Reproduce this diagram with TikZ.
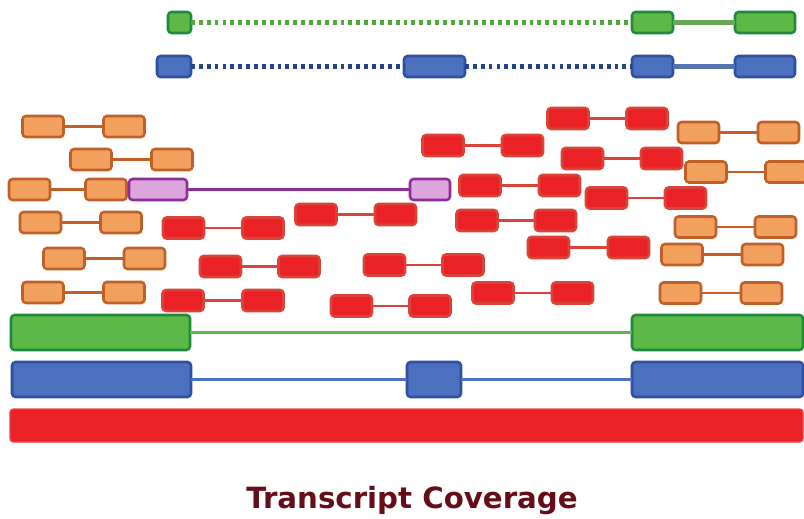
\documentclass[tikz,border=0pt]{standalone}
\usepackage{fontspec}
\newfontfamily\titlefont{DejaVu Sans}
\usepackage{tikz}
\usetikzlibrary{positioning}

\definecolor{exgreen}{HTML}{5CB946}
\definecolor{exgreenline}{HTML}{1F8A3B}
\definecolor{exblue}{HTML}{4A70BE}
\definecolor{exblueline}{HTML}{2E50A0}
\definecolor{rdorange}{HTML}{F2A05E}
\definecolor{rdorangeline}{HTML}{C05F28}
\definecolor{rdred}{HTML}{EA2226}
\definecolor{rdredline}{HTML}{D8443A}
\definecolor{rdpurple}{HTML}{DDA6DB}
\definecolor{rdpurpleline}{HTML}{8E2C9A}
\definecolor{titlered}{HTML}{650E19}

\def\pxu{0.025cm}

\tikzset{
  box/.style={draw, rounded corners=2.5pt, inner sep=0pt, outer sep=0pt, line width=1.8pt},
  gbox/.style={box, fill=exgreen, draw=exgreenline, minimum height=21*\pxu},
  bbox/.style={box, fill=exblue, draw=exblueline, minimum height=21*\pxu},
  obox/.style={box, fill=rdorange, draw=rdorangeline, minimum width=41*\pxu, minimum height=21*\pxu},
  rbox/.style={box, fill=rdred, draw=rdredline, minimum width=41*\pxu, minimum height=21*\pxu},
  pbox/.style={box, fill=rdpurple, draw=rdpurpleline, minimum height=21*\pxu},
  dots/.style={line width=3pt, dash pattern=on 2.7pt off 2.9pt},
  olink/.style={rdorangeline, line width=2pt},
  rlink/.style={rdredline, line width=2pt},
}

\begin{document}
\begin{tikzpicture}[x=0.025cm, y=-0.025cm]
\useasboundingbox (0,0) rectangle (804,519);

% Known transcripts (top)
\node[gbox, minimum width=23*\pxu] (g1) at (179.5,22.5) {};
\node[gbox, minimum width=41*\pxu] (g2) at (652.5,22.5) {};
\node[gbox, minimum width=60*\pxu] (g3) at (765,22.5) {};
\draw[dots, exgreen!90!black] (g1) -- (g2);
\draw[line width=3.2pt, exgreen!70!gray] (g2) -- (g3);

\node[bbox, minimum width=34*\pxu] (b1) at (174,66.5) {};
\node[bbox, minimum width=61*\pxu] (b2) at (434.5,66.5) {};
\node[bbox, minimum width=41*\pxu] (b3) at (652.5,66.5) {};
\node[bbox, minimum width=60*\pxu] (b4) at (765,66.5) {};
\draw[dots, exblueline!85!black] (b1) -- (b2);
\draw[dots, exblueline!85!black] (b2) -- (b3);
\draw[line width=3.2pt, exblue!80!gray] (b3) -- (b4);

% Orange reads
\foreach \xa/\xb/\yy [count=\i] in {43/124/126.5, 91/172/159.5, 29.5/106/189.5,
    40.5/121/222.5, 64/144.5/258.5, 43/124/292.5, 698.5/778.5/132.5,
    706/786/172, 695.5/775.5/227, 682/762.5/254.5, 680.5/761.5/293} {
  \node[obox] (o\i-l) at (\xa,\yy) {};
  \node[obox] (o\i-r) at (\xb,\yy) {};
  \draw[olink] (o\i-l) -- (o\i-r);
}

% Red reads
\foreach \xa/\xb/\yy [count=\i] in {183.5/263/228, 220.5/299/266.5, 183/263/300.5,
    443/522.5/145.5, 316/395.5/214.5, 384.5/463/265, 351.5/430/306,
    480/559.5/185.5, 477/555.5/220.5, 493/572.5/293, 548.5/628.5/247.5,
    568/647/118.5, 582.5/661.5/158.5, 606.5/685.5/198} {
  \node[rbox] (r\i-l) at (\xa,\yy) {};
  \node[rbox] (r\i-r) at (\xb,\yy) {};
  \draw[rlink] (r\i-l) -- (r\i-r);
}

% Spliced read
\node[pbox, minimum width=58*\pxu] (p1) at (158,189.5) {};
\node[pbox, minimum width=40*\pxu] (p2) at (430,189.5) {};
\draw[rdpurpleline, line width=2.2pt] (p1) -- (p2);

% Assembled transcripts (bottom)
\node[gbox, minimum width=179*\pxu, minimum height=35*\pxu] (G1) at (100.5,332.5) {};
\node[gbox, minimum width=171*\pxu, minimum height=35*\pxu] (G2) at (717.5,332.5) {};
\draw[exgreen, line width=2pt] (G1) -- (G2);

\node[bbox, minimum width=179*\pxu, minimum height=35*\pxu] (B1) at (101.5,379.5) {};
\node[bbox, minimum width=54*\pxu, minimum height=35*\pxu] (B2) at (434,379.5) {};
\node[bbox, minimum width=171*\pxu, minimum height=35*\pxu] (B3) at (717.5,379.5) {};
\draw[exblue, line width=2pt] (B1) -- (B2);
\draw[exblue, line width=2pt] (B2) -- (B3);

\node[box, fill=rdred, draw=rdred!85!white, line width=1pt, minimum width=793*\pxu, minimum height=33*\pxu] (cov) at (406.5,425.5) {};

\node[anchor=base, text=titlered, font=\titlefont\bfseries\fontsize{20.8}{24}\selectfont] (title) at (412,508) {Transcript Coverage};
\end{tikzpicture}
\end{document}
